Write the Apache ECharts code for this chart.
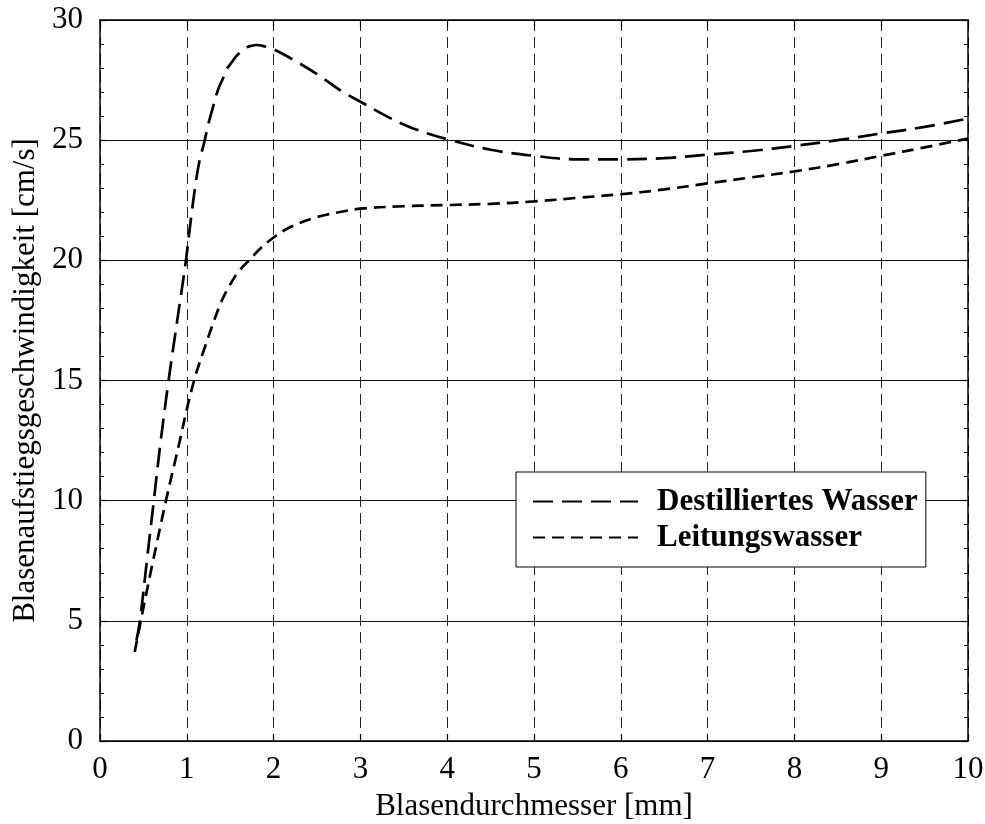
<!DOCTYPE html>
<html>
<head>
<meta charset="utf-8">
<script src="https://cdn.jsdelivr.net/npm/echarts@6/dist/echarts.min.js"></script>
<style>
  html, body { margin: 0; padding: 0; background: #fff; }
  #chart { width: 985px; height: 824px; }
</style>
</head>
<body>
<div id="chart"></div>
<script>
// Bubble diameter [mm] vs. rise velocity [cm/s]
const seriesNames = ['Destilliertes Wasser', 'Leitungswasser'];

const destilliertX = [0.42, 0.46, 0.54, 0.62, 0.70, 0.79, 0.89, 0.99, 1.05, 1.11, 1.15, 1.20, 1.25, 1.30, 1.36, 1.42, 1.46, 1.52, 1.57, 1.63, 1.69, 1.75, 1.80, 1.90, 2.00, 2.20, 2.50, 2.80, 3.00, 3.30, 3.60, 4.00, 4.50, 5.00, 5.50, 6.00, 6.50, 7.00, 7.50, 8.00, 8.50, 9.00, 9.50, 10.00];
const destilliertY = [4.2, 5.0, 7.5, 10.0, 12.5, 15.0, 17.5, 20.0, 21.8, 23.4, 24.2, 24.9, 25.7, 26.35, 27.1, 27.6, 27.96, 28.25, 28.5, 28.7, 28.86, 28.93, 28.96, 28.9, 28.78, 28.4, 27.75, 27.0, 26.6, 26.0, 25.5, 25.04, 24.6, 24.35, 24.2, 24.2, 24.25, 24.4, 24.55, 24.76, 25.0, 25.28, 25.55, 25.9];

const leitungX = [0.40, 0.47, 0.60, 0.76, 0.92, 1.00, 1.10, 1.20, 1.30, 1.40, 1.50, 1.60, 1.73, 1.85, 2.00, 2.20, 2.50, 2.75, 3.00, 3.50, 4.00, 4.50, 5.00, 5.50, 6.00, 6.50, 7.00, 7.50, 8.00, 8.50, 9.00, 9.50, 10.00];
const leitungY = [3.7, 5.0, 7.3, 10.0, 12.5, 13.8, 15.2, 16.3, 17.35, 18.3, 19.0, 19.55, 20.05, 20.5, 20.95, 21.4, 21.8, 22.0, 22.15, 22.25, 22.3, 22.35, 22.45, 22.6, 22.75, 22.95, 23.2, 23.45, 23.7, 24.0, 24.35, 24.7, 25.07];

const xTicks = { min: 0, max: 10, step: 1 };
const yTicks = { min: 0, max: 30, step: 5 };

const xName = 'Blasendurchmesser [mm]';
const yName = 'Blasenaufstiegsgeschwindigkeit [cm/s]';

const pairs = (xs, ys) => xs.map((x, i) => [x, ys[i]]);

const serif = 'Liberation Serif, Times New Roman, serif';
const ink = '#000';

const chart = echarts.init(document.getElementById('chart'), null, { renderer: 'canvas' });

const baseX = {
  type: 'value', min: xTicks.min, max: xTicks.max, interval: xTicks.step,
  axisLine: { show: true, onZero: false, lineStyle: { color: ink, width: 1.5 } },
  axisTick: { show: true, inside: true, length: 7, lineStyle: { color: ink, width: 1.2 } }
};
const baseY = {
  type: 'value', min: yTicks.min, max: yTicks.max, interval: yTicks.step,
  axisLine: { show: true, onZero: false, lineStyle: { color: ink, width: 1.5 } },
  axisTick: { show: true, inside: true, length: 7, lineStyle: { color: ink, width: 1.2 } },
  minorTick: { show: true, splitNumber: 5, length: 4, lineStyle: { color: ink, width: 1 } }
};

chart.setOption({
  animation: false,
  backgroundColor: '#fff',
  grid: { left: 100, right: 17, top: 20, bottom: 83, containLabel: false, outerBoundsMode: 'none' },
  xAxis: [
    Object.assign({}, baseX, {
      position: 'bottom',
      name: xName, nameLocation: 'middle', nameGap: 50,
      nameTextStyle: { fontFamily: serif, fontSize: 31, color: ink },
      axisLabel: { show: true, margin: 13, fontFamily: serif, fontSize: 31, color: ink },
      splitLine: { show: true, lineStyle: { color: '#222', width: 1, type: [11, 6] } }
    }),
    Object.assign({}, baseX, {
      position: 'top',
      axisLabel: { show: false },
      splitLine: { show: false }
    })
  ],
  yAxis: [
    Object.assign({}, baseY, {
      position: 'left',
      name: yName, nameLocation: 'middle', nameGap: 56, nameRotate: 90,
      nameTextStyle: { fontFamily: serif, fontSize: 31, color: ink },
      axisLabel: { show: true, margin: 17, fontFamily: serif, fontSize: 31, color: ink },
      splitLine: { show: true, lineStyle: { color: '#111', width: 1, type: 'solid' } }
    }),
    Object.assign({}, baseY, {
      position: 'right',
      axisLabel: { show: false },
      splitLine: { show: false }
    })
  ],
  legend: {
    show: true,
    orient: 'vertical',
    left: 516, top: 472,
    padding: [14, 8, 14, 16],
    itemGap: 5,
    itemWidth: 105, itemHeight: 14,
    backgroundColor: '#fff',
    borderColor: ink, borderWidth: 1, borderRadius: 0,
    itemStyle: { opacity: 0 },
    textStyle: { fontFamily: serif, fontSize: 31, fontWeight: 'bold', color: ink, padding: [0, 0, 0, 14] },
    data: seriesNames
  },
  series: [
    {
      name: seriesNames[0], type: 'line',
      xAxisIndex: 0, yAxisIndex: 0,
      data: pairs(destilliertX, destilliertY),
      smooth: 0.35, showSymbol: false, symbol: 'none',
      lineStyle: { color: ink, width: 2.7, type: [20, 9] },
      itemStyle: { color: ink }
    },
    {
      name: seriesNames[1], type: 'line',
      xAxisIndex: 0, yAxisIndex: 0,
      data: pairs(leitungX, leitungY),
      smooth: 0.35, showSymbol: false, symbol: 'none',
      lineStyle: { color: ink, width: 2.7, type: [12, 7] },
      itemStyle: { color: ink }
    }
  ]
});
</script>
</body>
</html>
